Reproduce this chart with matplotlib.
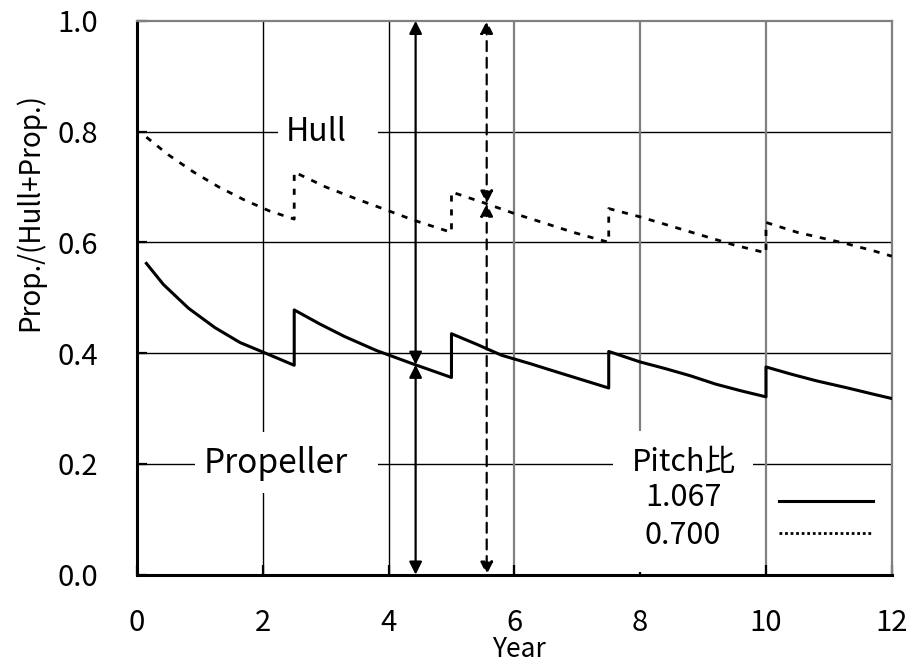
import matplotlib
matplotlib.use("Agg")
import matplotlib.pyplot as plt
from matplotlib.patches import Rectangle

plt.rcParams['font.family'] = ['Noto Sans CJK JP', 'DejaVu Sans']

# data ----------------
# Propeller share, pitch ratio 1.067 (solid)
year_a = [0.15, 0.42, 0.82, 1.24, 1.64, 2.0, 2.5, 2.5, 2.9, 3.3, 3.8, 4.4, 5.0, 5.0,
          5.4, 5.8, 6.25, 6.7, 7.1, 7.5, 7.5, 8.0, 8.4, 8.8, 9.2, 9.6, 10.0, 10.0,
          10.4, 10.8, 11.3, 11.7, 12.0]
prop_a = [0.562, 0.524, 0.481, 0.446, 0.419, 0.402, 0.378, 0.478, 0.453, 0.430, 0.405,
          0.380, 0.356, 0.435, 0.416, 0.396, 0.381, 0.365, 0.351, 0.337, 0.403, 0.384,
          0.372, 0.359, 0.344, 0.332, 0.321, 0.375, 0.362, 0.350, 0.337, 0.326, 0.318]

# pitch ratio 0.700 (dotted)
year_b = [0.15, 0.5, 0.9, 1.3, 1.7, 2.1, 2.5, 2.5, 3.0, 3.5, 4.0, 4.4, 5.0, 5.0,
          5.5, 6.0, 6.5, 6.94, 7.5, 7.5, 8.0, 8.5, 9.0, 9.5, 10.0, 10.0,
          10.5, 11.0, 11.3, 11.7, 12.0]
prop_b = [0.790, 0.758, 0.727, 0.700, 0.677, 0.657, 0.642, 0.727, 0.700, 0.678, 0.657,
          0.640, 0.618, 0.691, 0.672, 0.652, 0.634, 0.618, 0.600, 0.661, 0.646, 0.629,
          0.612, 0.595, 0.581, 0.636, 0.618, 0.605, 0.597, 0.585, 0.575]

pitch_labels = ['1.067', '0.700']
arrow_a = (4.43, 0.379)
arrow_b = (5.56, 0.67)

# plot --------------
fig = plt.figure(figsize=(9.1, 6.62), dpi=100)
ax = fig.add_axes([0.1505, 0.132, 0.8295, 0.8365])
ax.set_xlim(0, 12)
ax.set_ylim(0, 1.0)

# grid
for y in [0.2, 0.4, 0.6, 0.8]:
    ax.axhline(y, color='black', lw=1.0, zorder=1)
for x, c in zip([2, 4, 6, 8, 10], ['black', 'black', 'gray', 'gray', 'gray']):
    ax.axvline(x, color=c, lw=1.0 if c == 'black' else 1.6, zorder=1)

# white boxes for labels
ax.add_patch(Rectangle((2.24, 0.75), 1.59, 0.1, fc='white', ec='none', zorder=2))
ax.add_patch(Rectangle((0.92, 0.148), 2.91, 0.11, fc='white', ec='none', zorder=2))
ax.add_patch(Rectangle((7.56, 0.005), 2.24, 0.255, fc='white', ec='none', zorder=2))

# curves
ax.plot(year_a, prop_a, color='black', lw=2.2, zorder=3)
ax.plot(year_b, prop_b, color='black', lw=2.0, dashes=(2.2, 2.8), zorder=3)

# arrows
akw = dict(arrowstyle='<|-|>', color='black', lw=1.6, mutation_scale=19,
           shrinkA=0, shrinkB=0)
ax.annotate('', xy=(arrow_a[0], 0), xytext=(arrow_a[0], arrow_a[1]),
            arrowprops=akw, zorder=4)
ax.annotate('', xy=(arrow_a[0], 1.0), xytext=(arrow_a[0], arrow_a[1]),
            arrowprops=akw, zorder=4)
dkw = dict(akw, linestyle=(0, (4.5, 3)))
ax.annotate('', xy=(arrow_b[0], 0), xytext=(arrow_b[0], arrow_b[1]),
            arrowprops=dkw, zorder=4)
ax.annotate('', xy=(arrow_b[0], 1.0), xytext=(arrow_b[0], arrow_b[1]),
            arrowprops=dkw, zorder=4)

# labels in plot
ax.text(2.85, 0.8, 'Hull', fontsize=23, ha='center', va='center', zorder=5)
ax.text(2.20, 0.2, 'Propeller', fontsize=24, ha='center', va='center', zorder=5)
ax.text(8.70, 0.203, 'Pitch比', fontsize=22, ha='center', va='center', zorder=5)
ax.text(8.68, 0.14, pitch_labels[0], fontsize=22, ha='center', va='center', zorder=5)
ax.text(8.68, 0.07, pitch_labels[1], fontsize=22, ha='center', va='center', zorder=5)
ax.plot([10.2, 11.7], [0.133, 0.133], color='black', lw=2.2, zorder=5)
ax.plot([10.2, 11.7], [0.076, 0.076], color='black', lw=2.0, dashes=(1, 1), zorder=5)

# axes style
ax.set_xticks([0, 2, 4, 6, 8, 10, 12])
ax.set_yticks([0.0, 0.2, 0.4, 0.6, 0.8, 1.0])
ax.set_yticklabels(['0.0', '0.2', '0.4', '0.6', '0.8', '1.0'])
ax.tick_params(direction='in', length=7, width=1.6, labelsize=21)
ax.tick_params(axis='y', pad=28)
ax.tick_params(axis='x', pad=24)
for s in ['left', 'bottom']:
    ax.spines[s].set_linewidth(2.2)
for s in ['top', 'right']:
    ax.spines[s].set_color('gray')
    ax.spines[s].set_linewidth(1.6)

fig.text(519 / 910, 1 - 657 / 662, 'Year', fontsize=19, ha='center', va='baseline')
fig.text(30 / 910, 1 - 212 / 662, 'Prop./(Hull+Prop.)', fontsize=20,
         ha='center', va='center', rotation=90)

fig.savefig('out.png', dpi=100)
